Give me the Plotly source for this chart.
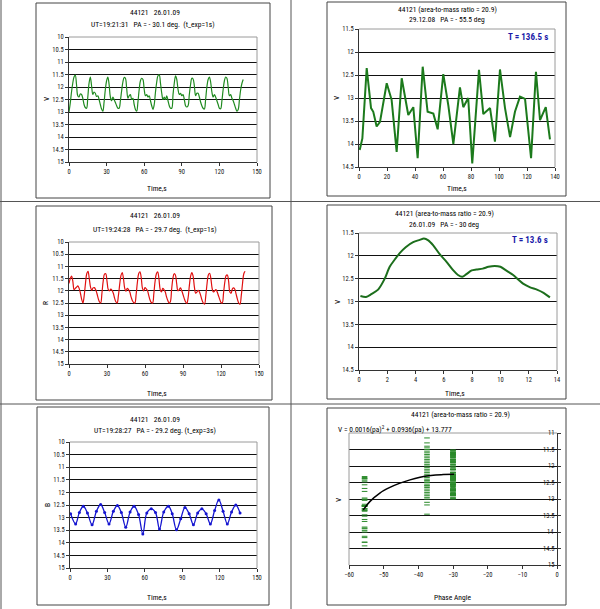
import plotly.graph_objects as go

FONT = ("Liberation Sans Narrow, Arial Narrow, Roboto Condensed, "
        "IBM Plex Sans Condensed, Liberation Sans, Arial, sans-serif")
W, H = 600, 609

# ---------------- data ----------------
tl_time = list(range(140))
tl_v = [13.0, 12.65, 12.2, 11.85, 11.6, 11.52, 11.9, 12.35, 12.4, 12.28,
        12.3, 12.45, 12.7, 12.82, 12.85, 12.4, 11.85, 11.6, 11.95, 12.3,
        12.2, 12.25, 12.38, 12.35, 12.5, 12.7, 12.88, 12.97, 12.6, 12.1,
        11.75, 11.6, 11.9, 12.4, 12.55, 12.4, 12.5, 12.62, 12.75, 12.85,
        12.85, 12.55, 12.15, 11.8, 11.62, 11.65, 12.05, 12.45, 12.35, 12.3,
        12.5, 12.45, 12.7, 12.9, 12.97, 12.6, 12.1, 11.75, 11.65, 11.7,
        12.1, 12.35, 12.3, 12.4, 12.35, 12.55, 12.75, 12.9, 12.7, 12.2,
        11.8, 11.55, 11.52, 11.85, 12.25, 12.5, 12.4, 12.5, 12.35, 12.55,
        12.75, 12.85, 12.85, 12.3, 11.85, 11.55, 11.7, 12.1, 12.3, 12.25,
        12.35, 12.3, 12.5, 12.75, 12.8, 12.75, 12.3, 11.9, 11.65, 11.68,
        11.95, 12.35, 12.25, 12.25, 12.4, 12.6, 12.75, 12.85, 12.88, 12.5,
        12.0, 11.7, 11.6, 11.8, 12.2, 12.4, 12.3, 12.4, 12.55, 12.7,
        12.85, 12.87, 12.55, 12.1, 11.75, 11.6, 11.65, 12.0, 12.35, 12.3,
        12.45, 12.55, 12.7, 12.85, 12.97, 12.9, 12.5, 12.1, 11.85, 11.7]

tr_time = [0.5, 2.4, 5.5, 8.6, 10.2, 12.6, 15.0, 19.8, 23.3, 26.9, 30.5, 35.2,
           38.8, 41.9, 45.5, 49.0, 53.1, 56.2, 60.2, 63.8, 67.4, 72.1, 74.5,
           78.0, 80.9, 85.7, 88.8, 93.6, 97.1, 100.7, 104.3, 107.9, 111.4,
           115.0, 118.6, 122.9, 126.4, 129.3, 133.4, 136.4]
tr_v = [14.13, 13.88, 12.35, 13.22, 13.3, 13.62, 13.52, 12.68, 13.04, 14.17,
        12.57, 13.37, 13.2, 14.31, 12.32, 13.3, 13.34, 13.68, 12.48, 13.16,
        14.0, 12.77, 13.2, 13.0, 14.42, 12.39, 13.35, 13.22, 13.95, 12.38,
        13.22, 13.85, 13.3, 12.97, 13.02, 14.31, 12.43, 13.48, 13.2, 13.9]

ml_time = list(range(140))
ml_r = [11.7, 11.5, 11.4, 11.6, 11.95, 11.9, 11.85, 11.8, 11.9, 12.1,
        12.35, 12.5, 12.2, 11.7, 11.3, 11.2, 11.5, 11.85, 11.98, 11.88,
        11.87, 11.95, 12.1, 12.3, 12.45, 12.5, 12.1, 11.6, 11.32, 11.3,
        11.6, 11.95, 12.0, 11.93, 11.98, 12.1, 12.3, 12.45, 12.5, 12.2,
        11.75, 11.38, 11.25, 11.5, 11.9, 12.02, 11.9, 11.95, 12.05, 12.25,
        12.4, 12.48, 12.5, 12.15, 11.65, 11.3, 11.22, 11.45, 11.9, 12.0,
        11.87, 11.92, 12.0, 12.2, 12.38, 12.48, 12.5, 12.1, 11.6, 11.3,
        11.22, 11.5, 11.95, 12.05, 11.9, 11.95, 12.05, 12.25, 12.4, 12.5,
        12.45, 11.95, 11.5, 11.3, 11.35, 11.7, 12.0, 11.95, 11.88, 12.0,
        12.15, 12.32, 12.45, 12.52, 12.3, 11.8, 11.4, 11.25, 11.4, 11.85,
        12.1, 12.05, 11.98, 12.05, 12.2, 12.38, 12.5, 12.55, 12.2, 11.7,
        11.35, 11.28, 11.5, 11.9, 12.05, 12.0, 11.95, 12.05, 12.2, 12.35,
        12.48, 12.5, 12.1, 11.65, 11.38, 11.35, 11.6, 12.05, 12.1, 11.92,
        11.88, 11.95, 12.15, 12.35, 12.5, 12.55, 12.2, 11.7, 11.3, 11.2]

mr_time = [0.1, 0.5, 0.87, 1.35, 1.82, 2.17, 2.53, 2.88, 3.3, 3.83, 4.3, 4.59,
           4.9, 5.25, 5.72, 6.19, 6.67, 7.0, 7.3, 7.6, 7.97, 8.3, 8.75, 9.15,
           9.6, 10.0, 10.45, 10.9, 11.3, 11.6, 12.1, 12.58, 13.05, 13.5]
mr_v = [12.88, 12.9, 12.84, 12.74, 12.5, 12.24, 12.08, 11.94, 11.81, 11.7,
        11.65, 11.62, 11.66, 11.77, 11.97, 12.13, 12.32, 12.42, 12.46, 12.4,
        12.32, 12.3, 12.28, 12.24, 12.22, 12.24, 12.33, 12.42, 12.53, 12.61,
        12.69, 12.74, 12.81, 12.91]

bl_time = [0.5, 4.5, 7.5, 10.7, 14.0, 17.7, 21.2, 24.6, 27.8, 31.3, 34.8, 38.0,
           41.2, 44.7, 48.2, 51.4, 55.0, 58.4, 61.6, 65.2, 68.6, 71.8, 75.2,
           79.0, 82.0, 85.4, 88.8, 92.2, 95.6, 99.0, 102.4, 105.8, 109.2,
           112.6, 116.0, 119.4, 122.8, 126.2, 129.6, 133.0, 136.4]
bl_b = [12.85, 13.25, 12.8, 12.55, 12.82, 13.28, 12.75, 12.48, 12.8, 13.25,
        12.75, 12.52, 12.8, 13.38, 12.78, 12.55, 12.88, 13.65, 12.82, 12.65,
        12.8, 13.45, 12.78, 12.55, 12.85, 13.48, 13.05, 12.6, 12.85, 13.28,
        12.82, 12.65, 12.85, 13.25, 12.72, 12.3, 12.75, 13.25, 12.78, 12.5,
        12.82]

pa_group1 = -55.5
pa_group3 = -30.0
grp2_pa = -37.5
grp2_v = [12.35, 11.9, 11.45, 11.6, 12.1, 12.55, 12.7, 12.45, 12.2, 11.75,
          11.5, 11.85, 12.3, 12.75, 12.95, 12.6, 12.4, 11.95, 11.55, 11.3,
          11.7, 12.15, 12.65, 12.85, 13.1, 12.8, 12.5, 12.05, 11.65, 11.4,
          11.8, 12.25, 12.6, 13.0, 13.18, 12.9, 12.45, 12.0, 11.15, 13.46]
trend_pa = [-55.9, -54.0, -51.1, -48.2, -45.3, -42.4, -39.5, -37.6, -35.0,
            -32.8, -29.7]
trend_v = [13.33, 13.08, 12.82, 12.65, 12.52, 12.42, 12.34, 12.30, 12.27,
           12.26, 12.25]

time150_ticks = [0, 30, 60, 90, 120, 150]
time140_ticks = [0, 20, 40, 60, 80, 100, 120, 140]
time14_ticks = [0, 2, 4, 6, 8, 10, 12, 14]
pa_ticks = [-60, -50, -40, -30, -20, -10, 0]
mag10_15 = [10, 10.5, 11, 11.5, 12, 12.5, 13, 13.5, 14, 14.5, 15]
mag115_145 = [11.5, 12, 12.5, 13, 13.5, 14, 14.5]
mag11_15 = [11, 11.5, 12, 12.5, 13, 13.5, 14, 14.5, 15]


def fx(x):
    return x / W


def fy(y):
    return 1 - y / H


# plot areas in page pixels: (left, right, top, bottom)
areas = {
    1: (69, 257, 37, 162),
    2: (359, 555, 29, 167),
    3: (69, 259, 242, 364),
    4: (359, 557, 233, 370),
    5: (70, 257, 442, 568),
    6: (349, 557, 433, 565),
}

fig = go.Figure()
tickfont = dict(family=FONT, size=6.5, color="#111")


def add_axes(n, xr, xt, yr, yt, yside="left"):
    l, r, t, b = areas[n]
    sx = "" if n == 1 else str(n)
    xa = dict(domain=[fx(l), fx(r)], range=xr, tickvals=xt, anchor="y" + sx,
              showline=True, linecolor="#333", linewidth=1, ticks="outside",
              ticklen=3, tickcolor="#333", tickfont=tickfont, showgrid=False,
              zeroline=False, automargin=False)
    ya = dict(domain=[fy(b), fy(t)], range=yr, tickvals=yt, anchor="x" + sx,
              showline=True, linecolor="#333", linewidth=1, ticks="outside",
              ticklen=3, tickcolor="#333", tickfont=tickfont, showgrid=True,
              gridcolor="#111", gridwidth=1, zeroline=False, side=yside,
              automargin=False)
    if yside == "right":
        ya["showticklabels"] = False
    fig.layout["xaxis" + sx] = xa
    fig.layout["yaxis" + sx] = ya


add_axes(1, [0, 150], time150_ticks, [15, 10], mag10_15)
add_axes(2, [0, 140], time140_ticks, [14.5, 11.5], mag115_145)
add_axes(3, [0, 150], time150_ticks, [15, 10], mag10_15)
add_axes(4, [0, 14], time14_ticks, [14.5, 11.5], mag115_145)
add_axes(5, [0, 150], time150_ticks, [15, 10], mag10_15)
add_axes(6, [-60, 0], pa_ticks, [15, 11], mag11_15, yside="right")

fig.add_trace(go.Scatter(x=tl_time, y=tl_v, mode="lines", xaxis="x", yaxis="y",
                         line=dict(color="#1f8a1f", width=1.2, shape="spline",
                                   smoothing=1.0)))
fig.add_trace(go.Scatter(x=tr_time, y=tr_v, mode="lines", xaxis="x2", yaxis="y2",
                         line=dict(color="#1c7a1c", width=2)))
fig.add_trace(go.Scatter(x=ml_time, y=ml_r, mode="lines", xaxis="x3", yaxis="y3",
                         line=dict(color="#e01010", width=1.2, shape="spline",
                                   smoothing=1.0)))
fig.add_trace(go.Scatter(x=mr_time, y=mr_v, mode="lines", xaxis="x4", yaxis="y4",
                         line=dict(color="#1c6e1c", width=2, shape="spline",
                                   smoothing=0.8)))
fig.add_trace(go.Scatter(x=bl_time, y=bl_b, mode="lines+markers", xaxis="x5",
                         yaxis="y5",
                         line=dict(color="#1515d0", width=1.3, shape="spline",
                                   smoothing=1.0),
                         marker=dict(color="#1515d0", size=3)))
pt_marker = dict(color="#2a8a2a", size=4, symbol="line-ew-open",
                 line=dict(color="#2a8a2a", width=1))
fig.add_trace(go.Scatter(x=[pa_group1] * len(tr_v), y=tr_v, mode="markers",
                         xaxis="x6", yaxis="y6", marker=pt_marker))
fig.add_trace(go.Scatter(x=[grp2_pa] * len(grp2_v), y=grp2_v, mode="markers",
                         xaxis="x6", yaxis="y6", marker=pt_marker))
fig.add_trace(go.Scatter(x=[pa_group3] * len(tl_v), y=tl_v, mode="markers",
                         xaxis="x6", yaxis="y6", marker=pt_marker))
fig.add_trace(go.Scatter(x=trend_pa, y=trend_v, mode="lines", xaxis="x6",
                         yaxis="y6", line=dict(color="#000", width=1.5,
                                               shape="spline")))

# ---------------- shapes: table grid, chart boxes, plot-area borders ----------------
shapes = []
for (x0, x1, y0, y1) in [(1, 1, 0, 609), (291, 291, 0, 609),
                         (0, 600, 201.5, 201.5), (0, 600, 404, 404)]:
    shapes.append(dict(type="line", xref="paper", yref="paper",
                       x0=fx(x0), x1=fx(x1), y0=fy(y0), y1=fy(y1),
                       line=dict(color="#555", width=1)))
for (x0, x1, y0, y1) in [(36, 270, 3, 198), (327, 566, 2, 196),
                         (36, 272, 206, 400), (327, 566, 205, 399),
                         (37, 269, 407, 605), (327, 566, 408, 605)]:
    shapes.append(dict(type="rect", xref="paper", yref="paper",
                       x0=fx(x0), x1=fx(x1), y0=fy(y0), y1=fy(y1),
                       line=dict(color="#444", width=1), layer="below"))
for n, (l, r, t, b) in areas.items():
    shapes.append(dict(type="line", xref="paper", yref="paper",
                       x0=fx(l), x1=fx(r), y0=fy(t), y1=fy(t),
                       line=dict(color="#9a9a9a", width=1)))
    edge = l if n == 6 else r
    shapes.append(dict(type="line", xref="paper", yref="paper",
                       x0=fx(edge), x1=fx(edge), y0=fy(t), y1=fy(b),
                       line=dict(color="#9a9a9a", width=1)))

# ---------------- texts ----------------
ann = []


def txt(s, x, y, size=7.5, color="#000", angle=0, xanchor="center", bg=None):
    d = dict(text=s, x=fx(x), y=fy(y), xref="paper", yref="paper",
             showarrow=False, xanchor=xanchor, yanchor="middle", textangle=angle,
             font=dict(family=FONT, size=size, color=color))
    if bg:
        d["bgcolor"] = bg
    ann.append(d)


txt("44121   26.01.09", 155, 13)
txt("UT=19:21:31   PA = - 30.1 deg.  (t_exp=1s)", 153, 25)
txt("V", 46, 99, angle=-90)
txt("Time,s", 157, 189)

txt("44121 (area-to-mass ratio = 20.9)", 447, 10)
txt("29.12.08   PA = - 55.5 deg", 447, 20)
txt("<b>T = 136.5 s</b>", 528, 37, size=9, color="#1a1aa8", bg="white")
txt("V", 336, 98, angle=-90)
txt("Time,s", 457, 189)

txt("44121   26.01.09", 155, 215)
txt("UT=19:24:28   PA = - 29.7 deg.  (t_exp=1s)", 155, 229)
txt("R", 46, 303, angle=-90)
txt("Time,s", 157, 393)

txt("44121 (area-to-mass ratio = 20.9)", 444, 213)
txt("26.01.09   PA = - 30 deg", 444, 224)
txt("<b>T = 13.6 s</b>", 530, 240, size=9, color="#1a1aa8", bg="white")
txt("V", 337, 302, angle=-90)
txt("Time,s", 455, 393)

txt("44121   26.01.09", 155, 419)
txt("UT=19:28:27   PA = - 29.2 deg. (t_exp=3s)", 155, 430)
txt("B", 47, 505, angle=-90)
txt("Time,s", 157, 597)

txt("44121 (area-to-mass ratio = 20.9)", 460, 415)
txt("V = 0.0016(pa)<sup>2</sup> + 0.0936(pa) + 13.777", 336, 429,
    xanchor="left")
txt("V", 338, 500, angle=-90)
txt("Phase Angle", 452, 597)

# magnitude labels of the bottom-right chart, sitting left of its right-hand axis
for m in mag11_15:
    ann.append(dict(text=f"{m:g}", x=0, y=m, xref="x6", yref="y6",
                    showarrow=False, xanchor="right", yanchor="middle",
                    xshift=-1, font=dict(family=FONT, size=6.5, color="#111")))

fig.update_layout(width=W, height=H, margin=dict(l=0, r=0, t=0, b=0),
                  paper_bgcolor="white", plot_bgcolor="white",
                  showlegend=False, shapes=shapes, annotations=ann,
                  font=dict(family=FONT, size=7, color="#000"))

fig.write_html("out.html", config={"displayModeBar": False},
               post_script="document.body.style.margin='0px';")
